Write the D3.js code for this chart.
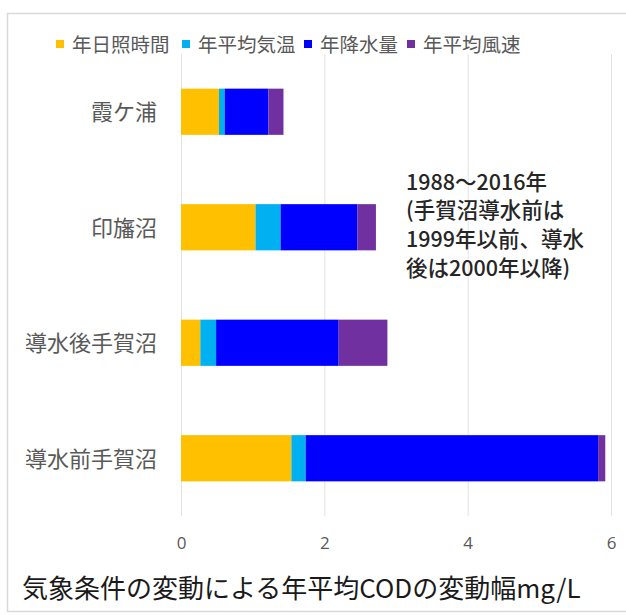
<!DOCTYPE html>
<html>
<head>
<meta charset="utf-8">
<script src="https://cdn.jsdelivr.net/npm/d3@7"></script>
<style>
  html, body { margin: 0; padding: 0; background: #fff; }
  svg { display: block; font-family: "Noto Sans CJK JP", "Noto Sans", sans-serif; }
</style>
</head>
<body>
<svg id="chart" width="626" height="615"></svg>
<script>
// Lakes, top to bottom
const categories = ["霞ケ浦", "印旛沼", "導水後手賀沼", "導水前手賀沼"];
// Stack components (mg/L)
const seriesNames = ["年日照時間", "年平均気温", "年降水量", "年平均風速"];
const sunshine = [0.53, 1.04, 0.27, 1.54];
const temperature = [0.08, 0.35, 0.22, 0.20];
const precipitation = [0.61, 1.07, 1.71, 4.08];
const windSpeed = [0.21, 0.26, 0.68, 0.10];
const colors = ["#FFC000", "#00B0F0", "#0000FF", "#7030A0"];
const xTicks = [0, 2, 4, 6];
const noteLines = ["1988～2016年", "(手賀沼導水前は", "1999年以前、導水", "後は2000年以降)"];
const axisTitle = "気象条件の変動による年平均CODの変動幅mg/L";

const rows = categories.map((c, i) => ({
  name: c,
  [seriesNames[0]]: sunshine[i],
  [seriesNames[1]]: temperature[i],
  [seriesNames[2]]: precipitation[i],
  [seriesNames[3]]: windSpeed[i]
}));

const svg = d3.select("#chart");

// Outer frame
svg.append("rect")
  .attr("x", 7.5).attr("y", 13.5)
  .attr("width", 640).attr("height", 598)
  .attr("fill", "none").attr("stroke", "#d9d9d9").attr("stroke-width", 1.5);

const x = d3.scaleLinear().domain([0, 6]).range([181, 611]);
const y = d3.scaleBand().domain(categories).range([54, 516])
  .paddingInner(0.6).paddingOuter(0.3);

// Vertical gridlines
svg.append("g").selectAll("line").data(xTicks).join("line")
  .attr("x1", d => x(d) + 0.5).attr("x2", d => x(d) + 0.5)
  .attr("y1", 54).attr("y2", 516)
  .attr("stroke", "#e3e3e3").attr("stroke-width", 1);

// Stacked bars
const stacked = d3.stack().keys(seriesNames)(rows);
svg.append("g").selectAll("g").data(stacked).join("g")
  .attr("fill", (d, i) => colors[i])
  .selectAll("rect").data(d => d).join("rect")
  .attr("x", d => x(d[0]))
  .attr("width", d => x(d[1]) - x(d[0]))
  .attr("y", d => y(d.data.name))
  .attr("height", y.bandwidth());

// Category labels
const yAxis = d3.axisLeft(y).tickSize(0).tickPadding(24);
const gy = svg.append("g").attr("transform", `translate(${x(0)},0)`).call(yAxis);
gy.select(".domain").remove();
gy.selectAll("text")
  .attr("font-size", 22).attr("fill", "#595959")
  .attr("font-family", "\"Noto Sans CJK JP\", sans-serif")
  .attr("dy", "0.38em");

// X tick labels
const xAxis = d3.axisBottom(x).tickValues(xTicks).tickFormat(d3.format("d"))
  .tickSize(0).tickPadding(0);
const gx = svg.append("g").attr("transform", "translate(0,536)").call(xAxis);
gx.select(".domain").remove();
gx.selectAll("text")
  .attr("font-size", 17).attr("fill", "#595959")
  .attr("font-family", "\"Open Sans\", \"Noto Sans\", sans-serif")
  .attr("dy", "0.75em");

// Axis title
svg.append("text")
  .attr("x", 22).attr("y", 598)
  .attr("font-size", 26).attr("fill", "#1a1a1a")
  .text(axisTitle);

// Legend
const legendX = [56, 182, 304, 407];
const lg = svg.append("g").selectAll("g").data(seriesNames).join("g")
  .attr("transform", (d, i) => `translate(${legendX[i]},0)`);
lg.append("rect").attr("x", 0).attr("y", 40).attr("width", 8).attr("height", 8)
  .attr("fill", (d, i) => colors[i]);
lg.append("text").attr("x", 16).attr("y", 45).attr("dy", "0.36em")
  .attr("font-size", 19.5).attr("fill", "#595959").text(d => d);

// Period note
svg.append("g").selectAll("text").data(noteLines).join("text")
  .attr("x", 406).attr("y", (d, i) => 182 + i * 28.7)
  .attr("dy", "0.36em")
  .attr("font-size", 21.5).attr("font-weight", 500).attr("fill", "#262626")
  .text(d => d);
</script>
</body>
</html>
